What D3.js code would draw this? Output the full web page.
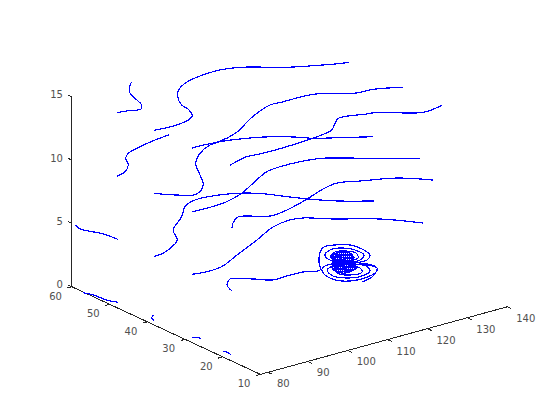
<!DOCTYPE html>
<html>
<head>
<meta charset="utf-8">
<script src="https://d3js.org/d3.v7.min.js"></script>
<style>
    html, body { margin: 0; padding: 0; background: #fff; }
    .tick-label { font: 10px "DejaVu Sans", sans-serif; fill: #505050; }
    .axis-line { stroke: #262626; stroke-width: 1; fill: none; shape-rendering: crispEdges; }
    .stream { stroke: #0000ff; stroke-width: 1.2; fill: none; shape-rendering: crispEdges; }
</style>
</head>
<body>
<div id="chart"></div>
<script>
// axis ticks
const xTicks = [80, 90, 100, 110, 120, 130, 140];
const yTicks = [10, 20, 30, 40, 50, 60];
const zTicks = [0, 5, 10, 15];
const xLimits = [78.1, 140];

// streamlines as [x, y] pairs, one list per seed point (y, z)
const z0y50 = [[80.05,49.93],[79.1,51.84],[78.68,54.96],[77.88,56.76]];
const z0y40 = [[79.58,39.72],[80.19,41.05],[81.42,41.83]];
const z0y30 = [[79.85,30.08],[80.64,29.59],[80.93,28.83]];
const z0y20 = [[80.22,20.14],[80.37,21.35],[80.08,21.94]];

const z5y50 = [[79.95,49.83],[79.48,53.15],[78.13,55.7],[77.5,57.24],[78.18,59.09]];
const z5y40 = [[79.96,40.12],[82.35,40.34],[87.39,42.5],[89.12,43.7],[91.89,47.7],[97.73,51.64],[101.64,54.92],
    [104.99,56.25],[113.43,54.99],[117.96,52.28],[121.14,48.47],[123.67,45.57],[127.57,42.0],[133.41,38.36]];
const z5y30 = [[79.83,29.91],[83.75,29.36],[87.5,29.88],[93.45,32.45],[101.69,35.86],[108.64,38.96],[113.69,39.81],
    [116.42,39.25],[120.82,35.93],[128.23,31.31],[133.67,25.64]];
const z5y20 = [[80.43,20.01],[81.68,22.65],[84.19,24.52],[84.77,24.32],[87.82,22.26],[90.64,19.93],[94.21,19.98],
    [98.09,19.85],[101.45,18.89],
    // outer turn
    [104.01,21.86],[107.57,25.35],[109.9,26.76],[112.3,26.4],[114.67,24.92],[115.21,22.3],[114.44,19.36],[112.26,17.86],
    [109.35,17.96],[106.98,19.44],[103.59,19.84],[102.1,19.06],[100.73,17.06],[100.42,13.83],[102.45,11.99],[105.84,11.6],
    [109.61,12.66],[111.12,14.0],[111.35,15.57],[110.14,17.47],
    // second turn
    [108.45,19.66],[106.42,21.5],[107.33,23.79],[109.82,25.09],[112.4,24.63],[113.77,22.63],[113.49,19.95],[111.16,18.55],
    [108.24,18.65],[104.86,19.05],[102.55,18.2],[101.47,15.45],[103.15,13.27],[106.04,12.6],[109.0,13.61],[110.06,15.81],
    [108.54,17.89],[107.01,19.99],[107.6,22.48],[109.93,23.88],[111.85,23.25],[112.91,21.46],[111.52,19.46],[108.27,19.2],
    [104.49,18.14],[103.12,16.14],[104.49,14.14],[107.4,14.04],[108.44,15.68],[107.56,17.93],
    // tight core, back and forth
    [109.75,23.43],[111.96,22.05],[111.77,21.31],[108.77,23.18],[107.94,22.84],[111.41,20.68],[111.06,20.04],[107.43,22.3],
    [107.08,21.66],[110.55,19.5],[109.73,19.15],[106.73,21.02],[106.53,20.29],[109.06,18.71],[108.71,18.07],[106.02,19.75],
    [105.2,19.4],[108.51,17.34],[108.32,16.61],[104.53,18.97],[104.02,18.43],[107.81,16.07],[107.14,15.63],[103.67,17.79],
    [103.47,17.06],[106.16,15.38],[105.02,15.24],[103.76,16.03],
    // tight core, other direction
    [108.6,23.0],[103.5,17.61],[103.48,17.33],[108.93,23.08],[109.25,23.17],[103.47,17.06],[103.46,16.78],[109.58,23.25],
    [109.91,23.33],[103.46,16.5],[103.53,16.31],[110.06,23.23],[110.22,23.13],[103.6,16.12],[103.67,15.93],[110.46,23.12],
    [110.71,23.11],[103.75,15.75],[103.91,15.65],[110.87,23.01],[111.03,22.91],[104.07,15.55],[104.22,15.45],[111.1,22.72],
    [111.17,22.54],[104.38,15.35],[104.62,15.34],[111.33,22.44],[111.49,22.35],[104.87,15.34],[105.11,15.33],[111.64,22.25],
    [111.8,22.15],[105.35,15.32],[105.67,15.4],[111.79,21.87],[111.78,21.59],[106.0,15.48],[106.32,15.56],[111.6,21.13],
    [111.41,20.68],[106.65,15.65],[107.31,15.81],[108.67,17.24],
    // way out
    [111.12,14.0],[109.61,12.66],[107.28,11.26],[104.0,10.45]];

const z10y50 = [[79.86,49.83],[82.53,50.62],[85.33,52.7],[87.19,55.36],[89.31,56.9],[93.39,58.12],[97.52,58.97],[102.09,59.55]];
const z10y40 = [[79.82,39.98],[82.77,37.16],[86.27,35.55],[90.37,38.14],[93.25,42.05],[96.54,46.67],[100.62,49.84],
    [105.01,51.85],[107.71,52.04],[113.08,50.64],[116.14,49.47],[121.14,46.35],[123.59,44.08],[127.48,42.0],[133.5,38.82]];
const z10y30 = [[79.56,29.63],[83.86,29.47],[88.39,29.83],[93.61,31.38],[101.33,35.12],[104.89,36.68],[108.68,37.16],
    [113.54,36.99],[118.12,36.08],[126.01,31.16],[133.64,26.4]];
const z10y20 = [[80.3,19.86],[82.15,21.56],[84.98,23.22],[90.37,20.43],[95.09,20.92],[101.98,22.9],[107.9,24.92],
    [112.15,25.7],[116.46,24.15],[123.32,21.59],[128.32,17.32]];

const z15y50 = [[79.86,49.83],[81.91,49.51],[84.85,48.83],[86.32,50.2],[87.54,53.26],[88.88,56.19],[90.65,57.95],[92.39,59.37]];
const z15y40 = [[79.72,39.87],[84.18,39.54],[88.58,40.22],[90.67,41.37],[92.21,44.06],[92.63,46.26],[94.82,49.64],[97.26,51.94],
    [100.52,53.73],[105.37,54.87],[110.57,55.06],[114.9,53.9],[122,49.47],[126.75,47.42],[131.37,45.68],[133.48,45.16]];
const z15y30 = [[79.7,29.77],[83.23,29.68],[85.8,29.4],[92.04,31.04],[98.66,34.51],[102.95,36.4],[106.57,37.57],[109.78,37.44],
    [117.03,37.15],[124.33,33.35],[128.2,33.05],[133.61,30.81]];
const z15y20 = [[79.77,19.85],[85.33,21.3],[88.35,20.96],[94.16,20.92],[101.23,21.32],[104.53,21.71],[107.81,22.52],[110.61,24.6],
    [112.82,26.07],[118.76,24.82],[120.92,24.44],[128.28,19.86],[133.56,20.57]];

const streamlines = [
    {z: 0, pts: z0y50}, {z: 0, pts: z0y40}, {z: 0, pts: z0y30}, {z: 0, pts: z0y20},
    {z: 5, pts: z5y50}, {z: 5, pts: z5y40}, {z: 5, pts: z5y30}, {z: 5, pts: z5y20},
    {z: 10, pts: z10y50}, {z: 10, pts: z10y40}, {z: 10, pts: z10y30}, {z: 10, pts: z10y20},
    {z: 15, pts: z15y50}, {z: 15, pts: z15y40}, {z: 15, pts: z15y30}, {z: 15, pts: z15y20}
];

let svg = d3.select("#chart").append("svg")
    .attr("width", 560)
    .attr("height", 420)
    .style("display", "block");

// the 3d view: every data axis moves the point along its own screen direction
let xToPx = d3.scaleLinear().domain([80, 140]).range([268, 507.2]);
let xToPy = d3.scaleLinear().domain([80, 140]).range([372.3, 306.8]);
let yToPx = d3.scaleLinear().domain([10, 60]).range([0, -188.5]);
let yToPy = d3.scaleLinear().domain([10, 60]).range([0, -87.6]);
let zToPy = d3.scaleLinear().domain([0, 15]).range([0, -190]);

function project(x, y, z) {
    return [xToPx(x) + yToPx(y), xToPy(x) + yToPy(y) + zToPy(z)];
}

let yBottom = yTicks[0], yTop = yTicks[yTicks.length - 1];
let xLow = xLimits[0], xHigh = xLimits[1];
let zTop = zTicks[zTicks.length - 1];

// three visible axis lines
let axisSegments = [
    [project(xLow, yTop, 0), project(xLow, yTop, zTop)],
    [project(xLow, yTop, 0), project(xLow, yBottom, 0)],
    [project(xLow, yBottom, 0), project(xHigh, yBottom, 0)]
];
svg.selectAll(".axis-main").data(axisSegments).enter().append("path")
    .attr("class", "axis-line axis-main")
    .attr("d", d3.line());

// x ticks point back along y, y ticks along x, z ticks along y
let xTick = svg.selectAll(".x-tick").data(xTicks).enter().append("g").attr("class", "x-tick");
xTick.append("path").attr("class", "axis-line")
    .attr("d", d => d3.line()([project(d, yBottom, 0), project(d, yBottom - 1.1, 0)]));
xTick.append("text").attr("class", "tick-label")
    .attr("x", d => project(d, yBottom, 0)[0] + 9)
    .attr("y", d => project(d, yBottom, 0)[1] + 15)
    .text(d => d);

let yTick = svg.selectAll(".y-tick").data(yTicks).enter().append("g").attr("class", "y-tick");
yTick.append("path").attr("class", "axis-line")
    .attr("d", d => d3.line()([project(xLow, d, 0), project(xLow - 1.1, d, 0)]));
yTick.append("text").attr("class", "tick-label")
    .attr("text-anchor", "end")
    .attr("x", d => project(xLow, d, 0)[0] - 10)
    .attr("y", d => project(xLow, d, 0)[1] + 13)
    .text(d => d);

let zTick = svg.selectAll(".z-tick").data(zTicks).enter().append("g").attr("class", "z-tick");
zTick.append("path").attr("class", "axis-line")
    .attr("d", d => d3.line()([project(xLow, yTop, d), project(xLow, yTop + 1.1, d)]));
zTick.append("text").attr("class", "tick-label")
    .attr("text-anchor", "end")
    .attr("x", d => project(xLow, yTop, d)[0] - 9)
    .attr("y", d => project(xLow, yTop, d)[1] + 1.5)
    .text(d => d);

// streamlines
let lineGen = d3.line().curve(d3.curveCatmullRom.alpha(0.5));
svg.selectAll(".stream").data(streamlines).enter().append("path")
    .attr("class", "stream")
    .attr("d", d => lineGen(d.pts.map(p => project(p[0], p[1], d.z))));
</script>
</body>
</html>
